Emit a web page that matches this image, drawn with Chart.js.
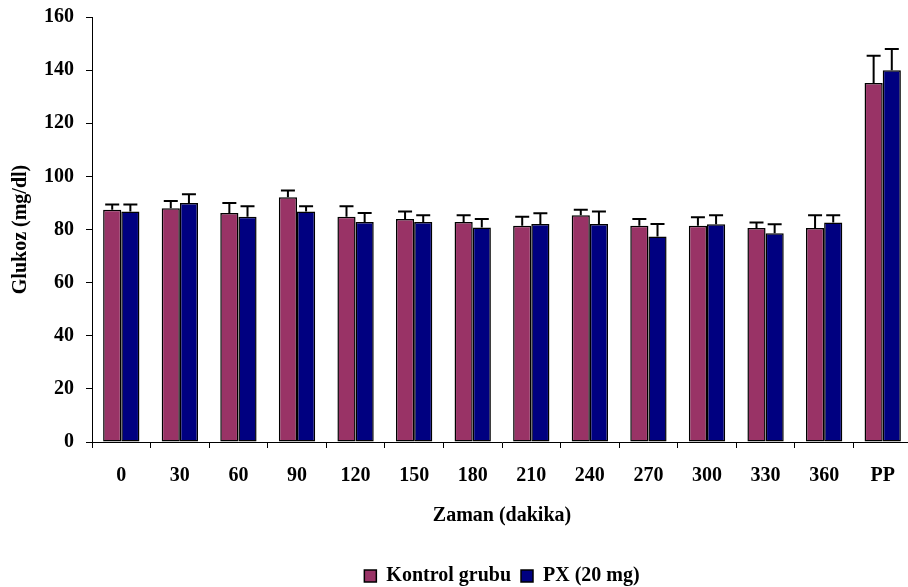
<!DOCTYPE html>
<html>
<head>
<meta charset="utf-8">
<script src="https://cdn.jsdelivr.net/npm/chart.js@4.4.1/dist/chart.umd.min.js"></script>
<style>
html,body{margin:0;padding:0;background:#fff;overflow:hidden;}
#wrap{width:912px;height:587px;position:relative;}
</style>
</head>
<body>
<div id="wrap"><canvas id="c" width="912" height="587"></canvas></div>
<script>
const categories = ["0","30","60","90","120","150","180","210","240","270","300","330","360","PP"];
const kontrolValues = [87.4, 88.0, 86.2, 92.1, 84.8, 84.0, 82.8, 81.4, 85.4, 81.4, 81.4, 80.6, 80.6, 135.2];
const kontrolErrors = [2.0, 2.7, 3.8, 2.6, 4.0, 2.8, 2.6, 3.4, 2.0, 2.6, 3.2, 2.0, 4.8, 10.2];
const pxValues = [86.8, 90.0, 84.8, 86.8, 82.8, 82.8, 80.8, 82.1, 82.1, 77.4, 82.0, 78.6, 82.6, 140.0];
const pxErrors = [2.6, 3.3, 4.0, 2.0, 3.4, 2.6, 3.2, 4.0, 4.7, 4.7, 3.4, 3.4, 2.8, 8.0];
const yTicks = [0, 20, 40, 60, 80, 100, 120, 140, 160];

const FONT = "'Liberation Serif', 'Times New Roman', serif";
const FS = 20;
Chart.defaults.font.family = FONT;
Chart.defaults.font.weight = 'bold';
Chart.defaults.font.size = FS;
Chart.defaults.color = '#000';

const errors = [kontrolErrors, pxErrors];

const errorBarPlugin = {
  id: 'errorBars',
  afterDatasetsDraw(chart) {
    const ctx = chart.ctx;
    const y = chart.scales.y;
    ctx.save();
    ctx.strokeStyle = '#000';
    ctx.lineWidth = 2;
    chart.data.datasets.forEach((ds, di) => {
      const meta = chart.getDatasetMeta(di);
      meta.data.forEach((bar, i) => {
        const v = ds.data[i];
        const e = errors[di][i];
        const x = bar.x;
        const yTop = y.getPixelForValue(v + e);
        const yBase = y.getPixelForValue(v);
        ctx.beginPath();
        ctx.moveTo(x, yBase);
        ctx.lineTo(x, yTop);
        ctx.moveTo(x - 7, yTop);
        ctx.lineTo(x + 7, yTop);
        ctx.stroke();
      });
    });
    ctx.restore();
  }
};

const legendShift = {
  id: 'legendShift',
  afterLayout(chart) {
    const lg = chart.legend;
    if (lg) {
      const w = lg.right - lg.left;
      const c = (chart.chartArea.left + chart.chartArea.right) / 2;
      lg.left = c - w / 2;
      lg.right = c + w / 2;
      lg.top += 9;
      lg.bottom += 9;
    }
  }
};

const f = () => ({ family: FONT, size: FS, weight: 'bold' });

new Chart(document.getElementById('c'), {
  type: 'bar',
  data: {
    labels: categories,
    datasets: [
      { label: 'Kontrol grubu', data: kontrolValues, backgroundColor: '#993366', borderColor: '#000', borderWidth: 1.5, borderSkipped: false },
      { label: 'PX (20 mg)', data: pxValues, backgroundColor: '#000080', borderColor: '#000', borderWidth: 1.5, borderSkipped: false }
    ]
  },
  options: {
    responsive: false,
    animation: false,
    devicePixelRatio: 1,
    layout: { padding: { top: 17, right: 0, left: 0, bottom: 0 } },
    datasets: { bar: { categoryPercentage: 0.62, barPercentage: 1.0 } },
    plugins: {
      legend: {
        position: 'bottom',
        labels: { boxWidth: 12, boxHeight: 12, padding: 10, font: f(), color: '#000' }
      },
      tooltip: { enabled: false }
    },
    scales: {
      x: {
        grid: { drawOnChartArea: false, drawTicks: true, tickLength: 6, color: '#000', offset: true },
        border: { display: true, color: '#000', width: 1 },
        ticks: { padding: 16, font: f(), color: '#000', maxRotation: 0 },
        title: { display: true, text: 'Zaman (dakika)', font: f(), color: '#000', padding: { top: 0, bottom: 19 } }
      },
      y: {
        min: 0, max: 160,
        afterBuildTicks(scale) { scale.ticks = yTicks.map(v => ({ value: v })); },
        afterFit(scale) { scale.width = 92; scale.paddingTop = 0; scale.paddingBottom = 0; },
        grid: { drawOnChartArea: false, drawTicks: true, tickLength: 6, color: '#000' },
        border: { display: true, color: '#000', width: 1 },
        ticks: { padding: 12, font: f(), color: '#000' },
        title: { display: true, text: 'Glukoz (mg/dl)', font: f(), color: '#000', padding: { top: 9, bottom: 0 } }
      }
    }
  },
  plugins: [errorBarPlugin, legendShift]
});
</script>
</body>
</html>
